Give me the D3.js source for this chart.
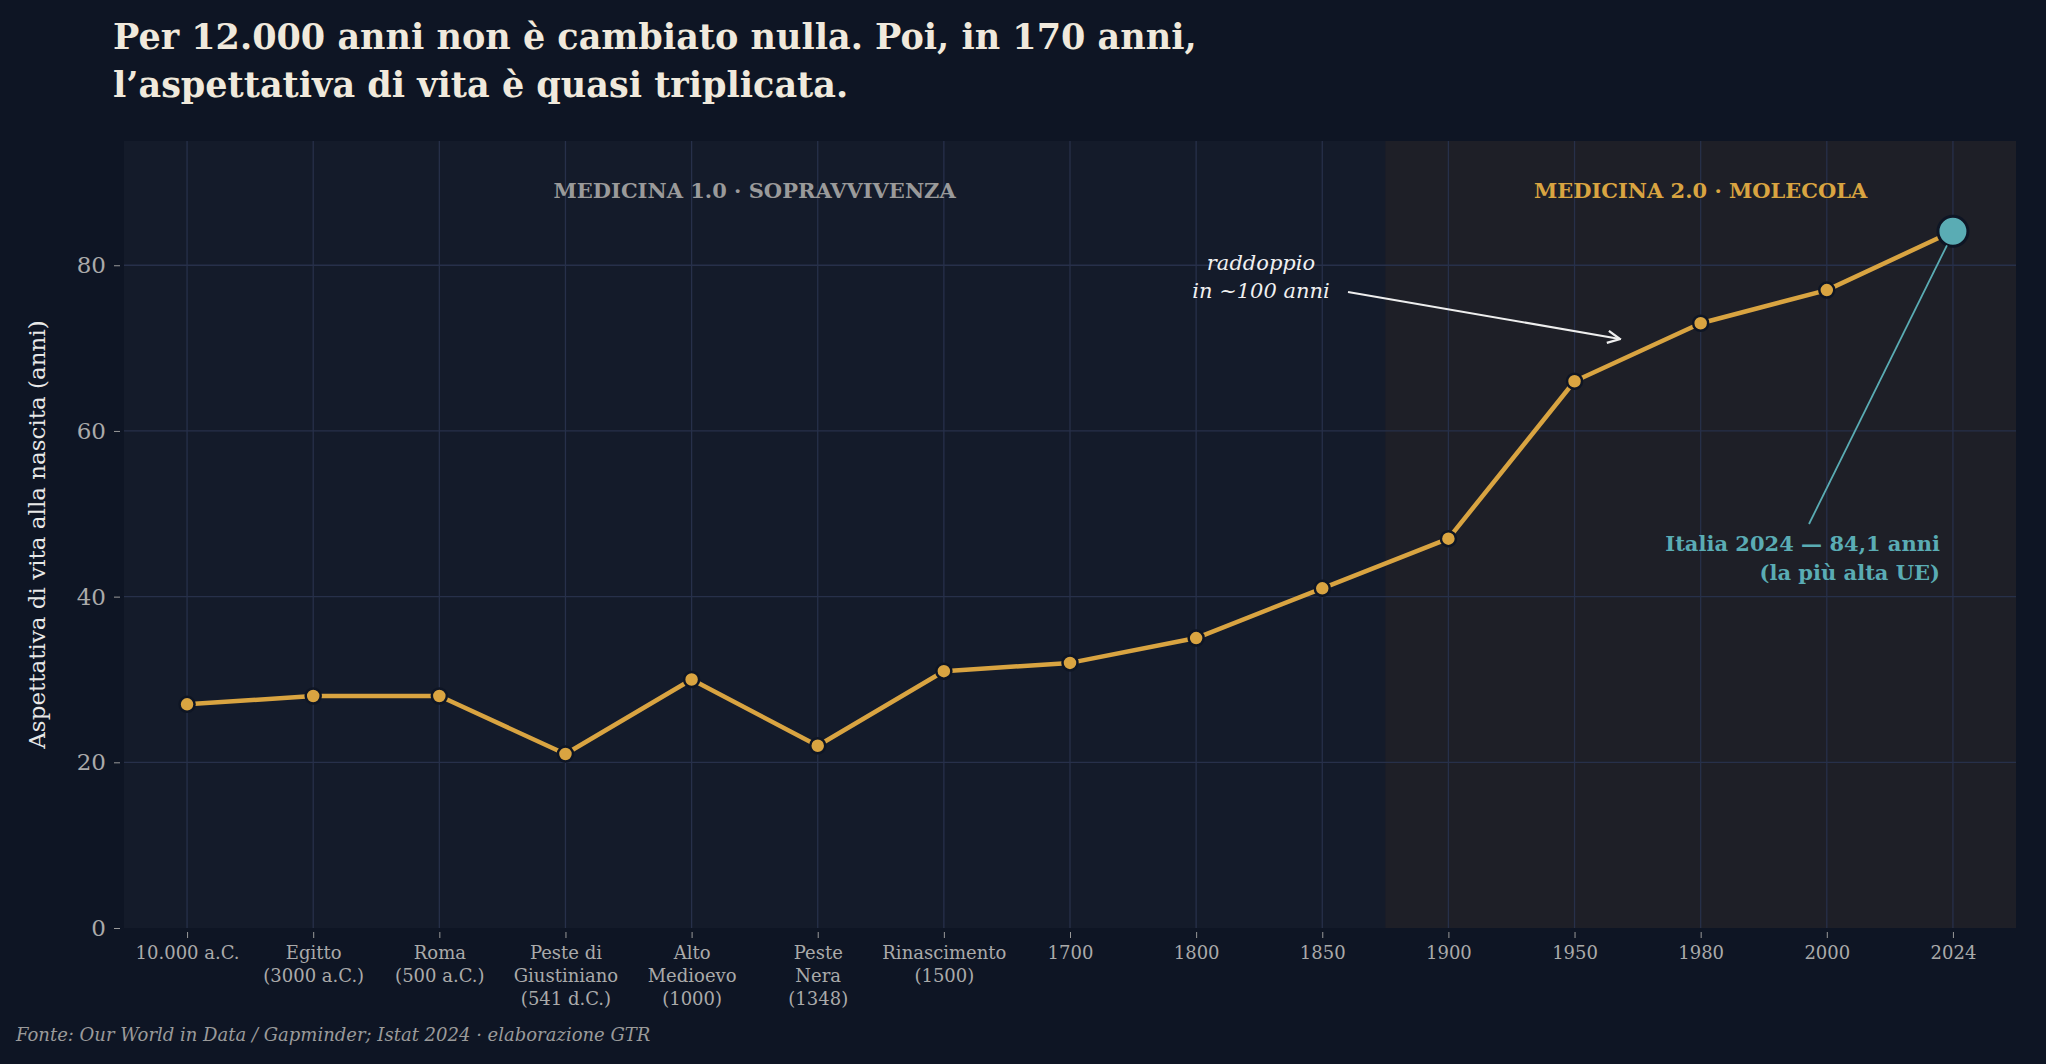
<!DOCTYPE html>
<html><head><meta charset="utf-8">
<script src="https://cdn.jsdelivr.net/npm/d3@7"></script>
<style>
body{margin:0;background:#0e1524;}
text{font-family:"DejaVu Serif",serif;}
</style></head>
<body>
<script>
// data
const labels = [["10.000 a.C."],["Egitto","(3000 a.C.)"],["Roma","(500 a.C.)"],["Peste di","Giustiniano","(541 d.C.)"],
  ["Alto","Medioevo","(1000)"],["Peste","Nera","(1348)"],["Rinascimento","(1500)"],["1700"],["1800"],["1850"],
  ["1900"],["1950"],["1980"],["2000"],["2024"]];
const lifeExp = [27, 28, 28, 21, 30, 22, 31, 32, 35, 41, 47, 66, 73, 77, 84.1];
const yTicks = [0, 20, 40, 60, 80];

const W = 2046, H = 1064;
const m = {l:124, r:30, t:141, b:136};
const svg = d3.select("body").append("svg").attr("width", W).attr("height", H);
svg.append("rect").attr("width", W).attr("height", H).attr("fill", "#0e1524");

const idx = d3.range(labels.length);
const x = d3.scalePoint().domain(idx).range([m.l, W - m.r]).padding(0.5);
const y = d3.scaleLinear().domain([0, 95]).range([H - m.b, m.t]);
const split = (x(9) + x(10)) / 2;

svg.append("rect").attr("x", m.l).attr("y", m.t).attr("width", W - m.r - m.l).attr("height", y(0) - m.t).attr("fill", "#141b2a");
svg.append("rect").attr("x", split).attr("y", m.t).attr("width", W - m.r - split).attr("height", y(0) - m.t).attr("fill", "#1e1f27");

// grid
svg.append("g").selectAll("line").data(idx).join("line")
  .attr("x1", d => x(d)).attr("x2", d => x(d)).attr("y1", m.t).attr("y2", y(0))
  .attr("stroke", "#27304a").attr("stroke-width", 1.3);
svg.append("g").selectAll("line").data(yTicks.slice(1)).join("line")
  .attr("x1", m.l).attr("x2", W - m.r).attr("y1", d => y(d)).attr("y2", d => y(d))
  .attr("stroke", "#27304a").attr("stroke-width", 1.3);

// axes
const ya = svg.append("g").attr("transform", `translate(${m.l - 4},0)`)
  .call(d3.axisLeft(y).tickValues(yTicks).tickSize(6).tickPadding(8));
ya.select(".domain").remove();
ya.selectAll("line").attr("stroke", "#999");
ya.selectAll("text").attr("fill", "#aaa").style("font-size", "23px").style("font-family", "DejaVu Serif");

const xa = svg.append("g").attr("transform", `translate(0,${y(0) + 4})`)
  .call(d3.axisBottom(x).tickSize(6).tickFormat(""));
xa.select(".domain").remove();
xa.selectAll("line").attr("stroke", "#999");
xa.selectAll(".tick").each(function(d) {
  const t = d3.select(this).append("text").attr("fill", "#aaa").attr("text-anchor", "middle")
    .style("font-size", "18px").attr("y", 27);
  labels[d].forEach((s, i) => t.append("tspan").attr("x", 0).attr("dy", i ? 23 : 0).text(s));
});

// section labels
svg.append("text").attr("x", (m.l + split) / 2).attr("y", 198).attr("text-anchor", "middle")
  .attr("fill", "#9a9a9a").style("font-size", "21px").style("font-weight", "bold").text("MEDICINA 1.0 · SOPRAVVIVENZA");
svg.append("text").attr("x", (split + W - m.r) / 2).attr("y", 198).attr("text-anchor", "middle")
  .attr("fill", "#d9a441").style("font-size", "21px").style("font-weight", "bold").text("MEDICINA 2.0 · MOLECOLA");

// line
const line = d3.line().x((d, i) => x(i)).y(d => y(d));
svg.append("path").datum(lifeExp).attr("d", line).attr("fill", "none")
  .attr("stroke", "#d9a441").attr("stroke-width", 4.5).attr("stroke-linejoin", "round");
svg.append("g").selectAll("circle").data(lifeExp.slice(0, -1)).join("circle")
  .attr("cx", (d, i) => x(i)).attr("cy", d => y(d)).attr("r", 7.5)
  .attr("fill", "#d9a441").attr("stroke", "#0e1524").attr("stroke-width", 2.5);
const last = lifeExp.length - 1;
svg.append("circle").attr("cx", x(last)).attr("cy", y(lifeExp[last])).attr("r", 15)
  .attr("fill", "#5aacb4").attr("stroke", "#0e1524").attr("stroke-width", 3);

// annotations
svg.append("defs").append("marker").attr("id", "ar").attr("viewBox", "0 0 10 10").attr("refX", 9).attr("refY", 5)
  .attr("markerWidth", 7).attr("markerHeight", 7).attr("orient", "auto")
  .append("path").attr("d", "M1,1 L9,5 L1,9").attr("fill", "none").attr("stroke", "#eee").attr("stroke-width", 1.5);
svg.append("line").attr("x1", 1348).attr("y1", 292).attr("x2", 1620).attr("y2", 339)
  .attr("stroke", "#eee").attr("stroke-width", 2.2).attr("marker-end", "url(#ar)");
const ra = svg.append("text").attr("text-anchor", "middle").attr("fill", "#f0f0f0")
  .style("font-size", "21px").style("font-style", "italic");
ra.append("tspan").attr("x", 1261).attr("y", 270).text("raddoppio");
ra.append("tspan").attr("x", 1261).attr("y", 298).text("in ~100 anni");

svg.append("line").attr("x1", 1809).attr("y1", 524).attr("x2", x(last) - 6).attr("y2", y(lifeExp[last]) + 14)
  .attr("stroke", "#5aacb4").attr("stroke-width", 1.8);
const it = svg.append("text").attr("text-anchor", "end").attr("fill", "#5aacb4")
  .style("font-size", "21px").style("font-weight", "bold");
it.append("tspan").attr("x", 1940).attr("y", 551).text("Italia 2024 — 84,1 anni");
it.append("tspan").attr("x", 1940).attr("y", 580).text("(la più alta UE)");

// title, y label, source
const tt = svg.append("text").attr("fill", "#f0e9dc").style("font-size", "35px").style("font-weight", "bold");
tt.append("tspan").attr("x", 113).attr("y", 49).text("Per 12.000 anni non è cambiato nulla. Poi, in 170 anni,");
tt.append("tspan").attr("x", 113).attr("y", 97).text("l’aspettativa di vita è quasi triplicata.");

svg.append("text").attr("transform", `translate(45,${(m.t + y(0)) / 2}) rotate(-90)`).attr("text-anchor", "middle")
  .attr("fill", "#e8e8e8").style("font-size", "23px").text("Aspettativa di vita alla nascita (anni)");

svg.append("text").attr("x", 16).attr("y", 1041).attr("fill", "#9a9a9a").style("font-size", "18px")
  .style("font-style", "italic").text("Fonte: Our World in Data / Gapminder; Istat 2024 · elaborazione GTR");
</script>
</body></html>
